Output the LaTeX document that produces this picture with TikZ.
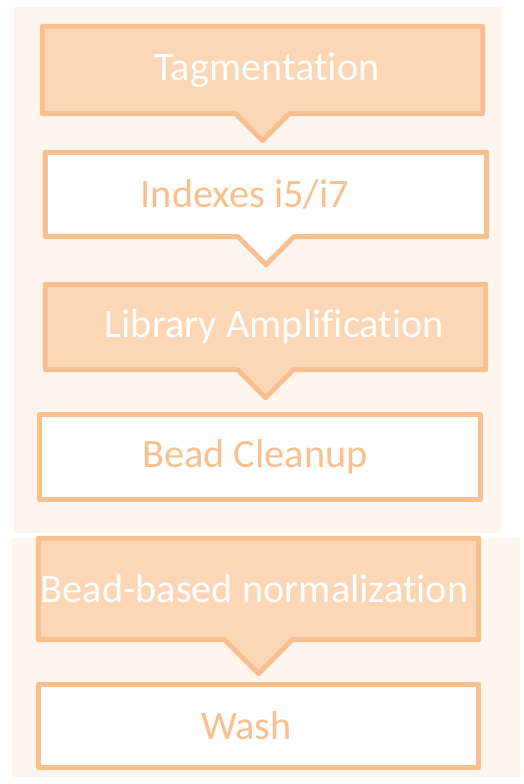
\documentclass[tikz,border=0pt]{standalone}
\usepackage{fontspec}
\setmainfont[RawFeature={-liga;-clig;-dlig;-calt}]{Carlito}
\usepackage{tikz}
\definecolor{pch}{RGB}{251,215,181}
\definecolor{pchdark}{RGB}{249,192,143}
\definecolor{pchbg}{RGB}{254,245,239}
\newcommand{\nudge}[1]{\hspace*{#1}}

\begin{document}
\begin{tikzpicture}[
            x=1bp, y=-1bp,
            stepbox/.style={rectangle, inner sep=0pt, minimum width=440bp, font=\fontsize{40.5}{42}\selectfont},
            filled/.style={stepbox, fill=pch, text=white},
            plain/.style={stepbox, fill=white, text=pchdark},
            edge/.style={pchdark, line width=5bp, line join=round}
        ]
            \useasboundingbox (0,0) rectangle (524,784);
            \fill [pchbg] (14,7) rectangle (501,533);
            \fill [pchbg] (12,538) rectangle (520,777);

            \node [filled, minimum height=87bp] (tag) at (262.5,70) {\nudge{9bp}Tagmentation};
            \node [plain, minimum height=84bp, minimum width=441bp] (idx) at (266,194.5) {\nudge{-42bp}Indexes i5/i7};
            \node [filled, minimum height=85bp] (amp) at (265.5,327) {\nudge{18bp}Library Amplification};
            \node [plain, minimum height=85bp, minimum width=441bp] (clean) at (260,457) {\nudge{-10bp}Bead Cleanup};
            \node [filled, minimum height=101bp] (norm) at (258.5,589) {\nudge{-8bp}Bead-based normalization};
            \node [plain, minimum height=83bp] (wash) at (258.5,726) {\nudge{-24bp}Wash};

            \foreach \b/\d/\c in {tag/27/pch, idx/28/white, amp/28/pch, norm/34/pch} {
                \fill [\c] ([xshift=-\d bp]\b.south) -- ([yshift=-\d bp]\b.south) -- ([xshift=\d bp]\b.south) -- cycle;
                \draw [edge] (\b.south west) -- (\b.north west) -- (\b.north east) -- (\b.south east)
                    -- ([xshift=\d bp]\b.south) -- ([yshift=-\d bp]\b.south) -- ([xshift=-\d bp]\b.south) -- cycle;
            }
            \foreach \b in {clean, wash} {
                \draw [edge] (\b.south west) rectangle (\b.north east);
            }
        \end{tikzpicture}
\end{document}
